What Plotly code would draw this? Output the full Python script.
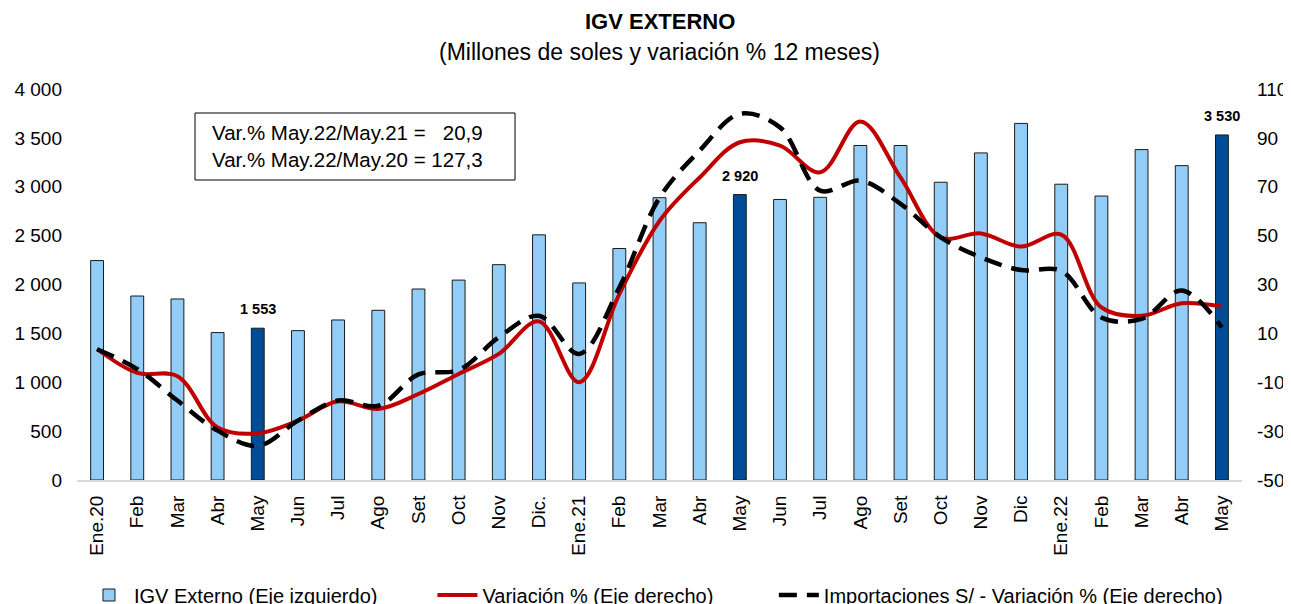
import plotly.graph_objects as go

categories = ["Ene.20", "Feb", "Mar", "Abr", "May", "Jun", "Jul", "Ago", "Set", "Oct", "Nov", "Dic.",
              "Ene.21", "Feb", "Mar", "Abr", "May", "Jun", "Jul", "Ago", "Set", "Oct", "Nov", "Dic",
              "Ene.22", "Feb", "Mar", "Abr", "May"]

igv_externo = [2245, 1882, 1852, 1508, 1553, 1528, 1637, 1736, 1954, 2045, 2203, 2508,
               2016, 2368, 2888, 2632, 2920, 2870, 2892, 3422, 3422, 3046, 3346, 3648,
               3026, 2905, 3380, 3216, 3530]

variacion = [3.6, -6.2, -7.5, -28.5, -30.9, -25.7, -17.8, -20.9, -14.8, -6.6, 1.6, 14.9,
             -10.0, 26.1, 56.0, 73.8, 88.2, 86.8, 75.9, 96.7, 73.8, 49.3, 50.9, 45.5,
             50.4, 20.6, 17.2, 22.3, 20.9]

importaciones = [3.5, -4.6, -17.5, -29.8, -36.0, -25.7, -17.5, -19.6, -6.8, -5.0, 8.4, 17.2,
                 1.6, 28.8, 65.5, 84.8, 99.8, 94.3, 68.4, 72.5, 63.0, 49.3, 41.1, 35.9,
                 35.6, 16.5, 15.9, 27.5, 12.4]

highlight = [4, 16, 28]  # May of each year

left_ticks = [0, 500, 1000, 1500, 2000, 2500, 3000, 3500, 4000]
right_ticks = [-50, -30, -10, 10, 30, 50, 70, 90, 110]

series_names = ["IGV Externo (Eje izquierdo)", "Variación % (Eje derecho)",
                "Importaciones S/ - Variación % (Eje derecho)"]


def fmt_thousands(v):
    return f"{v:,}".replace(",", " ")


NB = "\u00a0"
x = list(range(len(categories)))
bar_colors = ["#004C97" if i in highlight else "#92CDF7" for i in x]

FONT = "Arial, Liberation Sans, sans-serif"

fig = go.Figure()
fig.add_trace(go.Bar(
    x=x, y=igv_externo, name=series_names[0] + NB * 9,
    marker=dict(color=bar_colors, line=dict(color="#1a1a1a", width=1)),
    width=0.32, yaxis="y",
))
fig.add_trace(go.Scatter(
    x=x, y=variacion, name=series_names[1] + NB * 10, mode="lines",
    line=dict(color="#C00000", width=4, shape="spline", smoothing=1.0),
    yaxis="y2",
))
fig.add_trace(go.Scatter(
    x=x, y=importaciones, name=series_names[2], mode="lines",
    line=dict(color="#000000", width=4.5, shape="spline", smoothing=1.0, dash="18px,10px"),
    yaxis="y2",
))

annotations = []
for i in highlight:
    annotations.append(dict(
        x=i, y=igv_externo[i], xref="x", yref="y", text=f"<b>{fmt_thousands(igv_externo[i])}</b>",
        showarrow=False, yanchor="bottom", yshift=9, font=dict(family=FONT, size=14.5, color="#000"),
    ))

# Title and subtitle
annotations.append(dict(x=0.5, y=1.1714, xref="paper", yref="paper", text="<b>IGV EXTERNO</b>",
                        showarrow=False, yanchor="middle", xanchor="center",
                        font=dict(family=FONT, size=22, color="#000")))
annotations.append(dict(x=0.5, y=1.0946, xref="paper", yref="paper",
                        text="(Millones de soles y variación % 12 meses)",
                        showarrow=False, yanchor="middle", xanchor="center",
                        font=dict(family=FONT, size=23, color="#000")))

# Box text
annotations.append(dict(
    x=0.1142, y=0.853, xref="paper", yref="paper", xanchor="left", yanchor="middle", align="left",
    text="Var.% May.22/May.21 =" + NB * 3 + "20,9<br>Var.% May.22/May.20 = 127,3",
    showarrow=False, font=dict(family=FONT, size=20.5, color="#000"),
))

shapes = [dict(type="rect", xref="paper", yref="paper", x0=0.1013, x1=0.376, y0=0.7673, y1=0.9386,
               line=dict(color="#000", width=1), fillcolor="rgba(0,0,0,0)", layer="above")]

# The page body adds an 8px offset; the figure is sized/placed to compensate.
fig.update_layout(
    width=1283, height=596,
    margin=dict(l=69, r=49, t=81, b=124, autoexpand=False),
    paper_bgcolor="white", plot_bgcolor="white",
    font=dict(family=FONT, size=18, color="#000"),
    bargap=0.68,
    showlegend=True,
    legend=dict(orientation="h", x=0.006, xanchor="left", yref="container", y=0.0151, yanchor="middle",
                font=dict(family=FONT, size=20, color="#000"),
                itemwidth=40, traceorder="normal"),
    xaxis=dict(tickmode="array", tickvals=x, ticktext=categories, tickangle=-90,
               range=[-0.5, len(categories) - 0.5], showgrid=False, zeroline=False,
               showline=True, linecolor="#D9D9D9", linewidth=2, ticks="",
               tickfont=dict(family=FONT, size=19, color="#000"), ticklabelstandoff=6),
    yaxis=dict(range=[0, 4000], tickmode="array", tickvals=left_ticks,
               ticktext=[fmt_thousands(v) for v in left_ticks], showgrid=False, zeroline=False,
               showline=False, ticks="", tickfont=dict(family=FONT, size=19, color="#000"),
               ticklabelstandoff=14),
    yaxis2=dict(range=[-50, 110], tickmode="array", tickvals=right_ticks,
                ticktext=[str(v) for v in right_ticks], overlaying="y", side="right",
                showgrid=False, zeroline=False, showline=False, ticks="",
                tickfont=dict(family=FONT, size=19, color="#000"), ticklabelstandoff=14),
    annotations=annotations,
    shapes=shapes,
)

fig.write_html("out.html")
